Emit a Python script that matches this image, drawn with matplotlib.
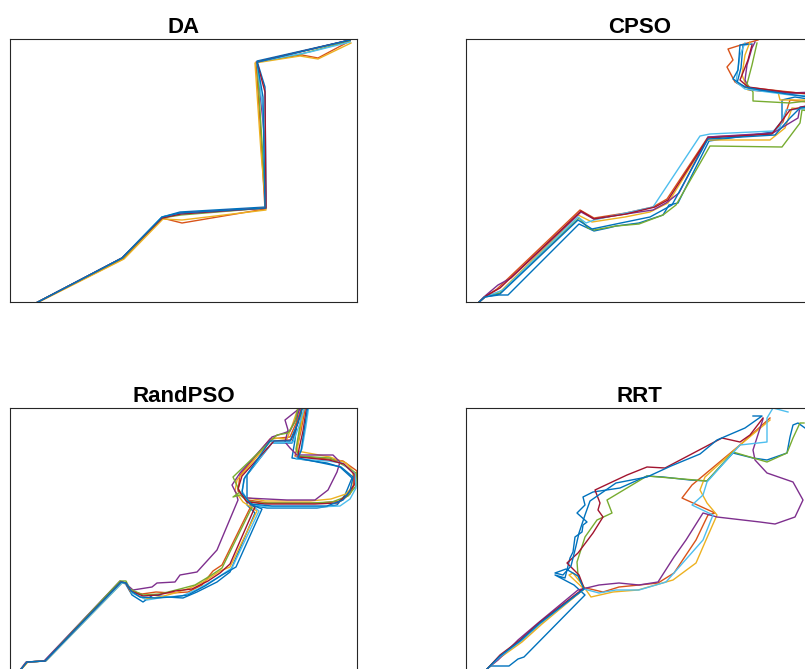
import matplotlib
matplotlib.use("Agg")
import matplotlib.pyplot as plt

plt.rcParams['font.family'] = ['Liberation Sans', 'DejaVu Sans']

# MATLAB default colour order, 8 runs per method (8th wraps to blue)
colors = ['#0072BD', '#D95319', '#EDB120', '#7E2F8E', '#77AC30', '#4DBEEE', '#A2142F', '#0072BD']
titles = ['DA', 'CPSO', 'RandPSO', 'RRT']

# ---------------- DA paths ----------------
da_x1 = [26, 112, 152, 170, 256, 255, 247, 340]
da_y1 = [-1, 44, 85, 90, 95, 215, 241, 262]
da_x2 = [26, 113, 152, 172, 255, 250, 246, 292, 308, 340]
da_y2 = [-1, 43, 84, 79, 93, 180, 240, 247, 244, 261]
da_x3 = [27, 114, 153, 172, 256, 251, 245, 290, 308, 341]
da_y3 = [-1, 43, 83, 82, 92, 150, 239, 246, 243, 259]
da_x4 = [26, 112, 152, 171, 256, 254, 247, 340]
da_y4 = [-1, 44, 84, 89, 94, 170, 240, 262]
da_x5 = [26, 113, 152, 171, 256, 252, 247, 291, 340]
da_y5 = [-1, 44, 84, 87, 94, 160, 240, 248, 261]
da_x6 = [26, 112, 152, 170, 256, 253, 247, 300, 340]
da_y6 = [-1, 44, 85, 88, 94, 190, 240, 250, 260]
da_x7 = [26, 112, 152, 171, 256, 255, 247, 340]
da_y7 = [-1, 44, 84, 88, 94, 210, 240, 262]
da_x8 = [26, 112, 152, 170, 255, 253, 247, 340]
da_y8 = [-1, 44, 85, 89, 94, 205, 240, 262]

# ---------------- CPSO paths ----------------
cp_x1 = [12, 18, 33, 42, 113, 128, 142, 150, 173, 197, 203, 212, 243, 307, 316, 316, 329, 349, 349, 324, 282, 271, 275, 277, 286]
cp_y1 = [-1, 5, 7, 7, 78, 71, 74, 76, 79, 87, 97, 99, 161, 170, 181, 202, 205, 202, 209, 209, 214, 219, 234, 257, 258]
cp_x2 = [12, 20, 31, 114, 128, 160, 187, 201, 242, 305, 317, 324, 349, 349, 324, 278, 269, 261, 267, 262, 278, 292]
cp_y2 = [-1, 6, 13, 92, 84, 89, 95, 103, 165, 168, 180, 202, 199, 207, 210, 215, 220, 235, 242, 253, 258, 262]
cp_x3 = [12, 19, 35, 112, 126, 159, 184, 202, 241, 304, 319, 326, 349, 349, 314, 312, 282, 276, 279, 284]
cp_y3 = [-1, 5, 11, 87, 80, 85, 90, 99, 162, 162, 174, 194, 192, 202, 202, 210, 212, 227, 247, 260]
cp_x4 = [12, 19, 32, 45, 115, 128, 153, 187, 200, 213, 242, 307, 332, 334, 349, 349, 324, 284, 279, 281, 286, 289]
cp_y4 = [-1, 6, 17, 24, 90, 83, 87, 92, 99, 109, 165, 169, 184, 195, 197, 210, 209, 212, 222, 237, 254, 260]
cp_x5 = [12, 20, 34, 113, 122, 128, 150, 173, 197, 210, 244, 316, 334, 336, 349, 349, 324, 287, 287, 281, 286, 291]
cp_y5 = [-1, 6, 9, 84, 74, 72, 76, 78, 87, 97, 156, 155, 179, 192, 190, 202, 199, 201, 210, 218, 237, 259]
cp_x6 = [12, 19, 37, 112, 120, 128, 187, 234, 244, 307, 314, 320, 349, 349, 324, 279, 270, 274, 279]
cp_y6 = [-1, 5, 12, 85, 79, 82, 95, 166, 168, 171, 175, 192, 194, 206, 207, 213, 220, 247, 259]
cp_x7 = [12, 20, 34, 115, 128, 160, 189, 202, 242, 306, 324, 349, 349, 319, 282, 274, 282, 286]
cp_y7 = [-1, 6, 14, 91, 83, 88, 95, 102, 164, 168, 192, 198, 208, 210, 215, 222, 242, 257]
cp_x8 = [12, 19, 34, 112, 126, 150, 184, 206, 242, 309, 324, 334, 349, 349, 294, 279, 267, 272, 274, 282]
cp_y8 = [-1, 5, 8, 82, 73, 78, 85, 97, 163, 167, 184, 194, 196, 204, 212, 215, 223, 232, 257, 258]

# ---------------- RandPSO paths ----------------
rp_x1 = [7, 17, 35, 110, 115, 122, 133, 143, 157, 173, 187, 207, 220, 245, 237, 237, 262, 282, 287, 292, 294, 289, 285, 282, 317, 330, 342, 335, 327, 307, 257, 240]
rp_y1 = [-3, 9, 10, 89, 88, 76, 69, 76, 74, 73, 79, 89, 99, 158, 166, 196, 228, 228, 246, 263, 273, 273, 231, 213, 208, 204, 193, 176, 166, 163, 163, 166]
rp_x2 = [7, 17, 35, 111, 116, 120, 132, 146, 162, 178, 192, 203, 212, 242, 236, 228, 230, 260, 280, 287, 292, 294, 297, 291, 285, 318, 333, 347, 345, 340, 331, 310, 258, 238]
rp_y2 = [-3, 9, 10, 89, 88, 80, 77, 79, 78, 79, 86, 100, 106, 167, 172, 180, 196, 232, 234, 250, 265, 273, 273, 240, 215, 212, 210, 200, 188, 177, 170, 168, 168, 171]
rp_x3 = [7, 18, 36, 112, 117, 121, 135, 150, 165, 180, 195, 210, 220, 247, 233, 225, 227, 263, 277, 283, 288, 290, 296, 290, 287, 320, 336, 343, 343, 336, 321, 300, 255, 239]
rp_y3 = [-3, 9, 10, 88, 87, 79, 72, 74, 78, 83, 90, 100, 104, 160, 169, 180, 191, 233, 232, 248, 263, 273, 273, 240, 220, 214, 208, 200, 185, 177, 172, 170, 170, 173]
rp_x4 = [7, 16, 34, 110, 115, 123, 142, 147, 165, 170, 187, 207, 228, 226, 222, 230, 262, 280, 286, 290, 292, 290, 275, 278, 275, 280, 287, 323, 330, 327, 318, 305, 277, 237]
rp_y4 = [-3, 9, 10, 90, 88, 81, 84, 88, 89, 96, 99, 121, 171, 178, 186, 198, 234, 240, 252, 263, 273, 263, 251, 241, 229, 223, 216, 216, 209, 199, 181, 171, 171, 173]
rp_x5 = [7, 17, 35, 110, 116, 120, 133, 150, 170, 185, 200, 212, 243, 230, 223, 230, 223, 267, 278, 285, 288, 289, 293, 290, 286, 289, 320, 335, 346, 346, 338, 322, 300, 250, 237]
rp_y5 = [-3, 9, 10, 90, 90, 82, 76, 77, 82, 86, 95, 103, 166, 176, 174, 179, 194, 236, 238, 249, 263, 273, 273, 245, 222, 215, 213, 205, 198, 185, 175, 169, 168, 168, 170]
rp_x6 = [7, 17, 36, 112, 117, 122, 137, 155, 172, 188, 207, 222, 249, 240, 232, 235, 262, 283, 289, 294, 296, 300, 296, 292, 286, 318, 332, 345, 346, 340, 330, 307, 258, 242]
rp_y6 = [-3, 9, 10, 88, 87, 78, 71, 74, 75, 82, 93, 103, 160, 167, 180, 194, 228, 229, 245, 262, 273, 273, 245, 222, 212, 210, 208, 197, 183, 172, 165, 164, 164, 166]
rp_x7 = [7, 17, 35, 111, 116, 121, 133, 148, 165, 182, 198, 210, 220, 245, 236, 228, 232, 264, 281, 288, 292, 294, 298, 293, 289, 288, 319, 334, 344, 344, 337, 327, 305, 255, 239]
rp_y7 = [-3, 9, 10, 89, 88, 80, 75, 76, 80, 82, 90, 98, 107, 164, 170, 182, 195, 230, 231, 248, 263, 273, 273, 240, 222, 214, 211, 207, 197, 186, 176, 168, 167, 167, 169]
rp_x8 = [7, 17, 35, 111, 116, 121, 130, 145, 162, 178, 195, 212, 226, 252, 242, 232, 234, 260, 280, 287, 292, 295, 299, 294, 291, 288, 317, 331, 343, 340, 333, 317, 262, 241]
rp_y8 = [-3, 9, 10, 89, 88, 80, 74, 73, 74, 76, 85, 96, 104, 162, 166, 178, 192, 230, 230, 246, 262, 273, 273, 240, 220, 213, 207, 204, 194, 180, 171, 165, 165, 167]

# ---------------- RRT paths ----------------
rr_x1 = [18, 22, 25, 43, 52, 58, 119, 108, 89, 99, 104, 107, 109, 116, 117, 121, 111, 119, 117, 127, 154, 181, 197, 224, 241, 267, 287, 301, 321, 324, 327, 332, 339]
rr_y1 = [-1, 3, 5, 5, 12, 14, 76, 86, 96, 93, 113, 119, 134, 139, 146, 149, 158, 166, 174, 179, 183, 195, 194, 191, 190, 218, 213, 211, 218, 234, 246, 248, 243]
rr_x2 = [18, 22, 35, 55, 75, 118, 120, 137, 153, 173, 192, 208, 230, 242, 249, 216, 226, 274, 304]
rr_y2 = [-1, 3, 15, 30, 48, 82, 83, 79, 84, 86, 88, 98, 131, 156, 158, 173, 186, 226, 253]
rr_x3 = [18, 22, 35, 56, 76, 118, 103, 107, 118, 125, 147, 172, 207, 230, 240, 251, 241, 234, 239, 274, 304]
rr_y3 = [-1, 3, 14, 29, 47, 82, 96, 98, 84, 74, 79, 81, 91, 108, 131, 156, 168, 181, 194, 226, 251]
rr_x4 = [18, 22, 32, 52, 72, 112, 133, 153, 173, 192, 208, 220, 237, 251, 294, 309, 329, 337, 327, 301, 289, 287, 297]
rr_y4 = [-1, 3, 11, 31, 48, 81, 86, 88, 86, 89, 114, 131, 158, 154, 149, 147, 154, 171, 189, 198, 211, 221, 252]
rr_x5 = [18, 22, 34, 54, 74, 118, 112, 111, 119, 131, 146, 141, 181, 241, 267, 301, 321, 327, 334, 338]
rr_y5 = [-1, 3, 15, 30, 48, 82, 96, 109, 134, 151, 158, 171, 195, 190, 219, 209, 218, 233, 248, 248]
rr_x6 = [18, 22, 35, 55, 75, 118, 133, 150, 173, 200, 237, 247, 226, 237, 241, 274, 301, 301, 307, 322]
rr_y6 = [-1, 3, 15, 30, 48, 82, 78, 81, 81, 89, 131, 156, 166, 176, 189, 226, 229, 253, 263, 259]
rr_x7 = [18, 22, 34, 54, 74, 118, 113, 103, 101, 112, 127, 137, 132, 134, 129, 161, 181, 199, 256, 274, 284, 297]
rr_y7 = [-1, 3, 16, 31, 49, 83, 96, 106, 108, 118, 138, 154, 161, 168, 181, 196, 204, 203, 233, 229, 236, 253]
rr_x8 = [18, 22, 34, 54, 74, 118, 112, 100, 89, 97, 105, 110, 113, 119, 124, 150, 181, 205, 234, 251, 279, 296, 287]
rr_y8 = [-1, 3, 15, 30, 48, 82, 95, 102, 98, 96, 105, 125, 138, 156, 170, 188, 194, 205, 217, 231, 243, 255, 255]

panels = [
    [(da_x1, da_y1), (da_x2, da_y2), (da_x3, da_y3), (da_x4, da_y4),
     (da_x5, da_y5), (da_x6, da_y6), (da_x7, da_y7), (da_x8, da_y8)],
    [(cp_x1, cp_y1), (cp_x2, cp_y2), (cp_x3, cp_y3), (cp_x4, cp_y4),
     (cp_x5, cp_y5), (cp_x6, cp_y6), (cp_x7, cp_y7), (cp_x8, cp_y8)],
    [(rp_x1, rp_y1), (rp_x2, rp_y2), (rp_x3, rp_y3), (rp_x4, rp_y4),
     (rp_x5, rp_y5), (rp_x6, rp_y6), (rp_x7, rp_y7), (rp_x8, rp_y8)],
    [(rr_x1, rr_y1), (rr_x2, rr_y2), (rr_x3, rr_y3), (rr_x4, rr_y4),
     (rr_x5, rr_y5), (rr_x6, rr_y6), (rr_x7, rr_y7), (rr_x8, rr_y8)],
]

W, H = 805, 669
fig = plt.figure(figsize=(W / 100, H / 100), dpi=100)
boxes = [(10, 39), (466, 39), (10, 408), (466, 408)]
aw, ah = 347, 263

for i, (left, top) in enumerate(boxes):
    ax = fig.add_axes([left / W, 1 - (top + ah) / H, aw / W, ah / H])
    for (xs, ys), c in zip(panels[i], colors):
        ax.plot(xs, ys, color=c, lw=1.0)
    ax.set_xlim(0, aw)
    ax.set_ylim(0, ah)
    ax.set_xticks([])
    ax.set_yticks([])
    for s in ax.spines.values():
        s.set_color('#262626')
        s.set_linewidth(0.8)
    ax.set_title(titles[i], fontsize=16, fontweight='bold', pad=4)

fig.savefig('out.png', dpi=100)
